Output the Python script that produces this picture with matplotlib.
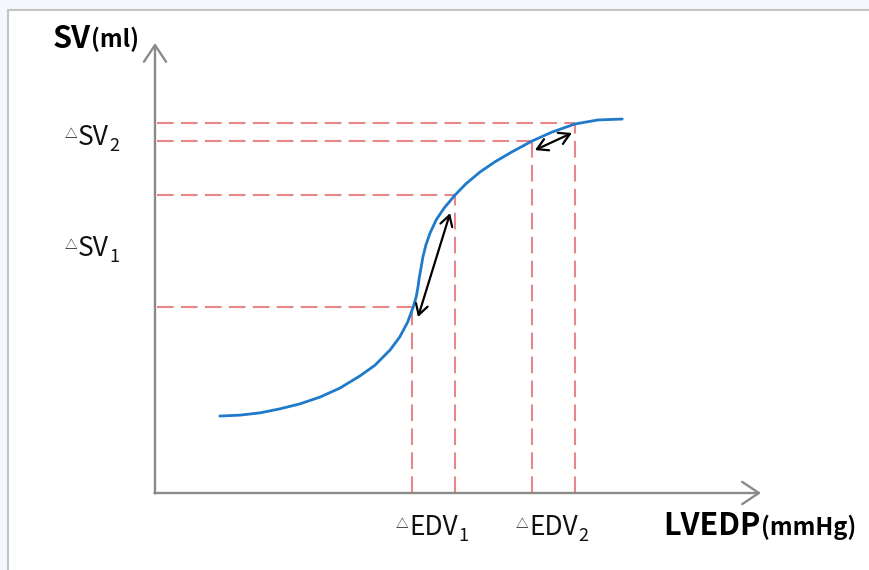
import matplotlib
matplotlib.use("Agg")
import matplotlib.pyplot as plt
from matplotlib.patches import Rectangle

plt.rcParams['font.family'] = ['Noto Sans CJK KR', 'DejaVu Sans']

# Frank-Starling curve (arbitrary units, axes 0..10)
curve_x = [1.07, 1.40, 1.73, 2.06, 2.39, 2.72, 3.05, 3.38, 3.63, 3.88, 4.04,
           4.17, 4.26, 4.31, 4.34, 4.36, 4.39, 4.42, 4.47, 4.54, 4.64, 4.77,
           4.95, 5.13, 5.36, 5.61, 5.89, 6.22, 6.55, 6.93, 7.31, 7.71]
curve_y = [1.71, 1.73, 1.78, 1.87, 1.98, 2.13, 2.33, 2.60, 2.84, 3.18, 3.47,
           3.80, 4.13, 4.36, 4.58, 4.78, 5.00, 5.24, 5.51, 5.78, 6.07, 6.33,
           6.62, 6.87, 7.13, 7.36, 7.58, 7.82, 8.02, 8.20, 8.29, 8.31]

# reference levels (EDV on x, SV on y), paired low/high
edv_levels = [4.24, 4.95, 6.22, 6.93]
sv_levels = [4.13, 6.62, 7.82, 8.23]

# double arrows along the curve: (x0, y0, x1, y1)
delta_arrows = [(4.34, 3.91, 4.87, 6.22),
                (6.27, 7.62, 6.88, 8.00)]

edv_labels = ["EDV", "EDV"]
edv_subs = ["1", "2"]
sv_labels = ["SV", "SV"]
sv_subs = ["1", "2"]
sv_label_y = [5.49, 7.95]

fig = plt.figure(figsize=(8.7, 5.7), dpi=100, facecolor='#f4f7fb')
bg = fig.add_axes([0, 0, 1, 1], zorder=-5)
bg.set_xlim(0, 870)
bg.set_ylim(570, 0)
bg.axis('off')
bg.add_patch(Rectangle((8, 10), 900, 600, facecolor='white',
                       edgecolor='#c4c4c4', linewidth=1.5))

ax = fig.add_axes([155/870, 77/570, 606/870, 450/570])
ax.set_xlim(0, 10)
ax.set_ylim(0, 10)
ax.axis('off')

dash_color = '#e8868a'
dash_style = (0, (8, 3.5))

# dashed guide lines
for x, y in zip(edv_levels, sv_levels):
    ax.plot([0.03, x], [y, y], color=dash_color, lw=1.5, linestyle=dash_style, zorder=1)
    ax.plot([x, x], [0, y], color=dash_color, lw=1.5, linestyle=dash_style, zorder=1)

# the curve
ax.plot(curve_x, curve_y, color='#1f7acb', lw=2.0, zorder=3,
        solid_capstyle='round', solid_joinstyle='round')

# double arrows
for x0, y0, x1, y1 in delta_arrows:
    ax.annotate('', xy=(x1, y1), xytext=(x0, y0),
                arrowprops=dict(arrowstyle='<->,head_length=0.38,head_width=0.22',
                                color='black', lw=1.6, shrinkA=0, shrinkB=0,
                                mutation_scale=20), zorder=4)

# axes with open arrow heads
axis_props = dict(arrowstyle='->,head_length=0.6,head_width=0.4', color='#8a8a8a',
                  lw=1.7, shrinkA=0, shrinkB=0, mutation_scale=20)
ax.annotate('', xy=(10, 0), xytext=(-0.01, 0), arrowprops=axis_props, annotation_clip=False)
ax.annotate('', xy=(0, 10), xytext=(0, -0.01), arrowprops=axis_props, annotation_clip=False)


def delta_label(x, y, main, sub, ha):
    t = ax.text(x, y, main, fontsize=19, ha=ha, va='baseline', color='#111111')
    ax.annotate('\u25b3', xy=(0, 0.38), xycoords=t, fontsize=9, ha='right',
                va='bottom', color='#111111', xytext=(-0.5, 0), textcoords='offset points')
    ax.annotate(sub, xy=(1, 0), xycoords=t, fontsize=13, ha='left',
                va='bottom', color='#111111', xytext=(0.5, -3), textcoords='offset points')
    return t


for i in range(2):
    mid = (edv_levels[2*i] + edv_levels[2*i + 1]) / 2
    delta_label(mid, -0.93, edv_labels[i], edv_subs[i], 'center')
    delta_label(-1.27, sv_label_y[i] - 0.22, sv_labels[i], sv_subs[i], 'left')

# axis titles
t = ax.text(-1.69, 9.9, "SV", fontsize=22, fontweight='bold', ha='left', va='baseline')
ax.annotate("(ml)", xy=(1, 0), xycoords=t, fontsize=17, fontweight='bold',
            ha='left', va='bottom', xytext=(0.5, 1.5), textcoords='offset points')
t = ax.text(8.38, -0.93, "LVEDP", fontsize=22, fontweight='bold', ha='left', va='baseline')
ax.annotate("(mmHg)", xy=(1, 0), xycoords=t, fontsize=17, fontweight='bold',
            ha='left', va='bottom', xytext=(0.5, 1.5), textcoords='offset points')

plt.savefig("out.png", dpi=100, facecolor=fig.get_facecolor())
